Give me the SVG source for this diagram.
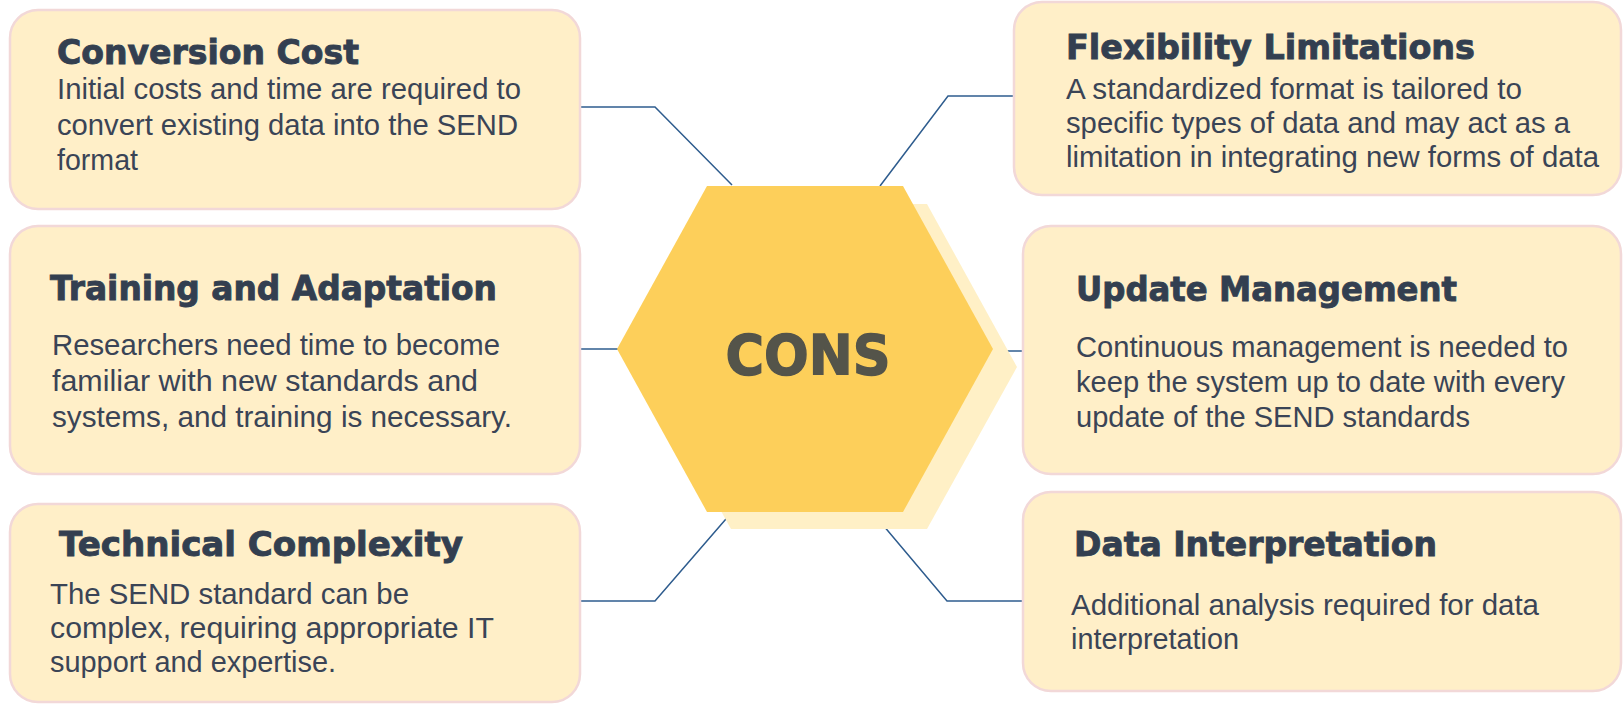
<svg xmlns="http://www.w3.org/2000/svg" width="1623" height="705" viewBox="0 0 1623 705">
  <style>
    .box { fill: #FFEFC8; stroke: #F2D8D8; stroke-width: 2.5; }
    .title { font-family: "DejaVu Sans", "Liberation Sans", sans-serif; font-weight: bold; font-size: 33px; fill: #333F50; stroke: #333F50; stroke-width: 0.9; }
    .body { font-family: "Liberation Sans", Arial, sans-serif; font-size: 29px; fill: #3A4456; }
    .link { fill: none; stroke: #2E5C8E; stroke-width: 1.5; }
    .hub { font-family: "DejaVu Sans", "Liberation Sans", sans-serif; font-weight: bold; font-size: 56px; fill: #54544A; stroke: #54544A; stroke-width: 1.4; }
  </style>

  <!-- connectors from the hub to each card -->
  <g id="connectors">
    <polyline class="link" points="580,107 655,107 732,185"/>
    <line class="link" x1="580" y1="349" x2="618" y2="349"/>
    <polyline class="link" points="580,601 655,601 732,512"/>
    <polyline class="link" points="880,186 948,96 1014,96"/>
    <line class="link" x1="988" y1="351" x2="1023" y2="351"/>
    <polyline class="link" points="872,512 947,601 1023,601"/>
  </g>

  <!-- central hexagon with its offset shadow -->
  <g id="hub">
    <polygon points="731,204 927,204 1017,367 927,529 731,529 641,367" fill="#FFF0C6"/>
    <polygon points="707,186 903,186 993,349 903,512 707,512 617,349" fill="#FDCF5A"/>
    <text class="hub" x="808" y="374" text-anchor="middle" textLength="165" lengthAdjust="spacingAndGlyphs">CONS</text>
  </g>

  <g id="conversion-cost">
    <rect class="box" x="10" y="10" width="570" height="199" rx="28"/>
    <text class="title" x="57" y="64" textLength="302" lengthAdjust="spacingAndGlyphs">Conversion Cost</text>
    <text class="body" x="57" y="99" textLength="464" lengthAdjust="spacingAndGlyphs">Initial costs and time are required to</text>
    <text class="body" x="57" y="135" textLength="461" lengthAdjust="spacingAndGlyphs">convert existing data into the SEND</text>
    <text class="body" x="57" y="170" textLength="81" lengthAdjust="spacingAndGlyphs">format</text>
  </g>

  <g id="training-adaptation">
    <rect class="box" x="10" y="226" width="570" height="248" rx="28"/>
    <text class="title" x="50" y="300" textLength="447" lengthAdjust="spacingAndGlyphs">Training and Adaptation</text>
    <text class="body" x="52" y="355" textLength="448" lengthAdjust="spacingAndGlyphs">Researchers need time to become</text>
    <text class="body" x="52" y="391" textLength="426" lengthAdjust="spacingAndGlyphs">familiar with new standards and</text>
    <text class="body" x="52" y="427" textLength="460" lengthAdjust="spacingAndGlyphs">systems, and training is necessary.</text>
  </g>

  <g id="technical-complexity">
    <rect class="box" x="10" y="504" width="570" height="198" rx="28"/>
    <text class="title" x="59" y="556" textLength="404" lengthAdjust="spacingAndGlyphs">Technical Complexity</text>
    <text class="body" x="50" y="604" textLength="359" lengthAdjust="spacingAndGlyphs">The SEND standard can be</text>
    <text class="body" x="50" y="638" textLength="444" lengthAdjust="spacingAndGlyphs">complex, requiring appropriate IT</text>
    <text class="body" x="50" y="672" textLength="286" lengthAdjust="spacingAndGlyphs">support and expertise.</text>
  </g>

  <g id="flexibility-limitations">
    <rect class="box" x="1014" y="2" width="607" height="193" rx="28"/>
    <text class="title" x="1066" y="59" textLength="409" lengthAdjust="spacingAndGlyphs">Flexibility Limitations</text>
    <text class="body" x="1066" y="99" textLength="456" lengthAdjust="spacingAndGlyphs">A standardized format is tailored to</text>
    <text class="body" x="1066" y="133" textLength="504" lengthAdjust="spacingAndGlyphs">specific types of data and may act as a</text>
    <text class="body" x="1066" y="167" textLength="533" lengthAdjust="spacingAndGlyphs">limitation in integrating new forms of data</text>
  </g>

  <g id="update-management">
    <rect class="box" x="1023" y="226" width="598" height="248" rx="28"/>
    <text class="title" x="1076" y="301" textLength="381" lengthAdjust="spacingAndGlyphs">Update Management</text>
    <text class="body" x="1076" y="357" textLength="492" lengthAdjust="spacingAndGlyphs">Continuous management is needed to</text>
    <text class="body" x="1076" y="392" textLength="489" lengthAdjust="spacingAndGlyphs">keep the system up to date with every</text>
    <text class="body" x="1076" y="427" textLength="394" lengthAdjust="spacingAndGlyphs">update of the SEND standards</text>
  </g>

  <g id="data-interpretation">
    <rect class="box" x="1023" y="492" width="598" height="199" rx="28"/>
    <text class="title" x="1074" y="556" textLength="363" lengthAdjust="spacingAndGlyphs">Data Interpretation</text>
    <text class="body" x="1071" y="615" textLength="468" lengthAdjust="spacingAndGlyphs">Additional analysis required for data</text>
    <text class="body" x="1071" y="649" textLength="168" lengthAdjust="spacingAndGlyphs">interpretation</text>
  </g>
</svg>
